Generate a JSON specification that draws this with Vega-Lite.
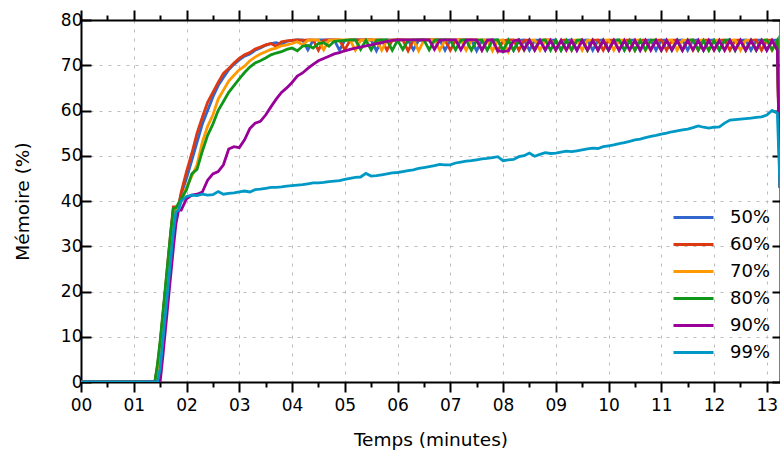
{
  "$schema": "https://vega.github.io/schema/vega-lite/v6.json",
  "width": 699,
  "height": 362,
  "autosize": {"type": "none"},
  "padding": {"left": 81, "top": 20, "right": 0, "bottom": 72},
  "background": "white",
  "config": {
    "view": {"stroke": null},
    "font": "DejaVu Sans",
    "axis": {
      "domainColor": "black", "domainWidth": 2,
      "tickColor": "black", "tickWidth": 2,
      "labelFont": "DejaVu Sans", "labelFontSize": 17, "labelColor": "black",
      "titleFont": "DejaVu Sans", "titleFontSize": 18.5, "titleFontWeight": "normal", "titleColor": "black",
      "gridColor": "#bcbcbc", "gridDash": [3, 6], "gridWidth": 1
    }
  },
  "data": {"values": [
    {"t":0,"50":0,"60":0,"70":0,"80":0,"90":0,"99":0},
    {"t":1.4,"50":0,"60":0,"70":0,"80":0,"90":0,"99":0},
    {"t":1.45,"50":3,"60":3.5,"70":2,"80":4,"90":0,"99":0},
    {"t":1.5,"50":8,"60":8.5,"70":7,"80":9,"90":0,"99":3},
    {"t":1.55,"50":14,"60":14.5,"70":13,"80":15,"90":5.5,"99":9},
    {"t":1.6,"50":20,"60":20.5,"70":19,"80":21,"90":11.5,"99":15},
    {"t":1.65,"50":26,"60":27,"70":25,"80":27,"90":17.5,"99":21},
    {"t":1.7,"50":32,"60":33,"70":31,"80":33,"90":23.5,"99":27},
    {"t":1.75,"50":38,"60":38.7,"70":37,"80":38.3,"90":29.5,"99":33},
    {"t":1.8,"50":38.5,"60":38.7,"70":38.5,"80":38.5,"90":35,"99":37.6},
    {"t":1.85,"50":39,"60":39,"70":39,"80":39.5,"90":38,"99":38},
    {"t":1.9,"50":41.5,"60":42,"70":40,"80":40.5,"90":38,"99":40},
    {"t":2.0,"50":45,"60":46.5,"70":43,"80":42.5,"90":40.5,"99":41},
    {"t":2.1,"50":49,"60":50.5,"70":45.5,"80":46,"90":41.3,"99":41.3},
    {"t":2.2,"50":53,"60":55,"70":48,"80":47,"90":41.5,"99":41.2},
    {"t":2.3,"50":57,"60":58.5,"70":53,"80":51,"90":42,"99":41.5},
    {"t":2.4,"50":60,"60":61.8,"70":56.5,"80":54.5,"90":44.6,"99":41.3},
    {"t":2.5,"50":63,"60":64,"70":59,"80":57,"90":46,"99":41.4},
    {"t":2.6,"50":65.5,"60":66.2,"70":62.5,"80":60,"90":46.5,"99":42.1},
    {"t":2.7,"50":67.3,"60":68.2,"70":64.5,"80":62,"90":48,"99":41.5},
    {"t":2.8,"50":69,"60":69.3,"70":66.5,"80":64,"90":51.5,"99":41.7},
    {"t":2.9,"50":70.2,"60":70.5,"70":67.8,"80":65.5,"90":52,"99":41.8},
    {"t":3.0,"50":71.2,"60":71.5,"70":69,"80":67,"90":51.8,"99":42},
    {"t":3.1,"50":72,"60":72.3,"70":69.8,"80":68.4,"90":53.5,"99":42.2},
    {"t":3.2,"50":72.5,"60":72.8,"70":71,"80":69.6,"90":56,"99":42},
    {"t":3.3,"50":73.3,"60":73.6,"70":71.8,"80":70.5,"90":57.2,"99":42.5},
    {"t":3.4,"50":73.8,"60":74,"70":72.5,"80":71,"90":57.6,"99":42.6},
    {"t":3.5,"50":74.4,"60":74.5,"70":73,"80":71.6,"90":59,"99":42.8},
    {"t":3.6,"50":74.8,"60":74.8,"70":73.5,"80":72.3,"90":60.8,"99":43},
    {"t":3.7,"50":75,"60":74.2,"70":73.8,"80":72.7,"90":62.5,"99":43},
    {"t":3.8,"50":74.6,"60":75.2,"70":74.3,"80":73,"90":64,"99":43.1},
    {"t":3.9,"50":75.3,"60":75.4,"70":74.5,"80":73.5,"90":65,"99":43.3},
    {"t":4.0,"50":75.5,"60":75.5,"70":74.8,"80":73.8,"90":66.2,"99":43.4},
    {"t":4.1,"50":75.6,"60":75.6,"70":75.2,"80":73.2,"90":67.6,"99":43.5},
    {"t":4.2,"50":75.6,"60":75.5,"70":74.5,"80":74.2,"90":68.3,"99":43.6},
    {"t":4.3,"50":73.4,"60":75.6,"70":75.5,"80":74.4,"90":69.3,"99":43.8},
    {"t":4.4,"50":75.5,"60":75.6,"70":75.6,"80":73.8,"90":70.2,"99":44},
    {"t":4.5,"50":75.6,"60":73.3,"70":75.6,"80":74.8,"90":71,"99":44},
    {"t":4.6,"50":75.6,"60":75.5,"70":73.4,"80":75,"90":71.5,"99":44.1},
    {"t":4.7,"50":75.6,"60":75.6,"70":75.5,"80":74.2,"90":72,"99":44.3},
    {"t":4.8,"50":75.6,"60":75.6,"70":75.6,"80":75.3,"90":72.5,"99":44.4},
    {"t":4.9,"50":73.3,"60":75.6,"70":75.6,"80":75.4,"90":72.8,"99":44.5},
    {"t":5.0,"50":75.5,"60":73.4,"70":75.6,"80":75.5,"90":73.2,"99":44.8},
    {"t":5.1,"50":75.6,"60":75.5,"70":75.6,"80":75.6,"90":73.5,"99":45},
    {"t":5.2,"50":75.6,"60":75.6,"70":73.3,"80":75.6,"90":73.8,"99":45.2},
    {"t":5.3,"50":75.6,"60":75.6,"70":75.5,"80":73.5,"90":74,"99":45.3},
    {"t":5.4,"50":75.6,"60":75.6,"70":75.6,"80":75.5,"90":74.3,"99":46.1},
    {"t":5.5,"50":75.6,"60":75.6,"70":75.6,"80":73.4,"90":74.5,"99":45.5},
    {"t":5.6,"50":73.2,"60":75.6,"70":75.6,"80":75.5,"90":74.8,"99":45.6},
    {"t":5.7,"50":75.5,"60":75.6,"70":73.3,"80":75.6,"90":75,"99":45.8},
    {"t":5.8,"50":75.6,"60":73.3,"70":75.5,"80":75.6,"90":75.3,"99":46},
    {"t":5.9,"50":75.6,"60":75.5,"70":75.6,"80":73.3,"90":75.5,"99":46.2},
    {"t":6.0,"50":75.6,"60":75.6,"70":75.6,"80":75.5,"90":75.6,"99":46.3},
    {"t":6.1,"50":75.6,"60":75.6,"70":75.6,"80":73.5,"90":75.6,"99":46.5},
    {"t":6.2,"50":75.6,"60":73.2,"70":75.6,"80":75.5,"90":75.6,"99":46.7},
    {"t":6.3,"50":73.4,"60":75.5,"70":75.6,"80":75.6,"90":75.6,"99":46.9},
    {"t":6.4,"50":75.5,"60":75.6,"70":73.2,"80":75.6,"90":75.6,"99":47.2},
    {"t":6.5,"50":75.6,"60":75.6,"70":75.5,"80":75.6,"90":75.6,"99":47.4},
    {"t":6.6,"50":75.6,"60":75.6,"70":75.6,"80":73.4,"90":75.6,"99":47.6},
    {"t":6.7,"50":75.6,"60":75.6,"70":75.6,"80":75.5,"90":73.5,"99":47.8},
    {"t":6.8,"50":75.6,"60":75.6,"70":73.3,"80":75.6,"90":75.5,"99":48.1},
    {"t":6.9,"50":73.3,"60":75.6,"70":75.5,"80":75.6,"90":75.6,"99":48},
    {"t":7.0,"50":75.5,"60":73.3,"70":75.6,"80":75.6,"90":75.6,"99":48},
    {"t":7.1,"50":75.6,"60":75.5,"70":75.6,"80":73.4,"90":75.6,"99":48.4},
    {"t":7.2,"50":75.6,"60":75.6,"70":75.6,"80":75.5,"90":73.4,"99":48.6},
    {"t":7.3,"50":75.6,"60":75.6,"70":73.3,"80":75.6,"90":75.5,"99":48.8},
    {"t":7.4,"50":75.6,"60":75.6,"70":75.5,"80":73.3,"90":75.6,"99":48.9},
    {"t":7.5,"50":73.2,"60":75.6,"70":75.6,"80":75.5,"90":75.6,"99":49.1},
    {"t":7.6,"50":75.5,"60":73.3,"70":75.6,"80":75.6,"90":73.3,"99":49.3},
    {"t":7.7,"50":75.6,"60":75.5,"70":75.6,"80":73.3,"90":75.5,"99":49.4},
    {"t":7.8,"50":75.6,"60":75.6,"70":73.2,"80":75.5,"90":75.6,"99":49.6},
    {"t":7.9,"50":75.6,"60":73.1,"70":75.5,"80":75.6,"90":73.2,"99":49.8},
    {"t":8.0,"50":73.2,"60":75.4,"70":75.6,"80":73.2,"90":73,"99":48.9},
    {"t":8.1,"50":75.5,"60":75.6,"70":73,"80":75.5,"90":73.2,"99":49.1},
    {"t":8.2,"50":73.3,"60":75.6,"70":75.5,"80":73.3,"90":75.4,"99":49.2},
    {"t":8.3,"50":75.5,"60":73.3,"70":75.6,"80":75.5,"90":75.6,"99":49.8},
    {"t":8.4,"50":75.6,"60":75.5,"70":73.3,"80":73.4,"90":73.5,"99":50},
    {"t":8.5,"50":73.3,"60":75.6,"70":75.5,"80":75.5,"90":75.5,"99":50.6},
    {"t":8.6,"50":75.5,"60":73.3,"70":75.6,"80":73.4,"90":73.4,"99":49.9},
    {"t":8.7,"50":75.6,"60":75.5,"70":73.3,"80":75.5,"90":75.5,"99":50.3},
    {"t":8.8,"50":73.3,"60":75.6,"70":75.5,"80":75.6,"90":73.4,"99":50.7},
    {"t":8.9,"50":75.5,"60":75.6,"70":75.6,"80":73.3,"90":75.5,"99":50.5},
    {"t":9.0,"50":75.6,"60":73.3,"70":73.4,"80":75.5,"90":73.4,"99":50.6},
    {"t":9.1,"50":73.3,"60":75.5,"70":75.5,"80":73.3,"90":75.5,"99":50.8},
    {"t":9.2,"50":75.5,"60":75.6,"70":73.3,"80":75.5,"90":73.4,"99":51},
    {"t":9.3,"50":75.6,"60":73.3,"70":75.5,"80":73.4,"90":75.5,"99":50.9},
    {"t":9.4,"50":73.3,"60":75.5,"70":75.6,"80":75.5,"90":73.3,"99":51.1},
    {"t":9.5,"50":75.5,"60":75.6,"70":73.3,"80":75.6,"90":75.5,"99":51.3},
    {"t":9.6,"50":75.6,"60":73.3,"70":75.5,"80":73.3,"90":73.4,"99":51.5},
    {"t":9.7,"50":73.3,"60":75.5,"70":75.6,"80":75.5,"90":75.5,"99":51.7},
    {"t":9.8,"50":75.5,"60":75.6,"70":73.3,"80":73.4,"90":73.3,"99":51.6},
    {"t":9.9,"50":75.6,"60":73.3,"70":75.5,"80":75.5,"90":75.5,"99":52},
    {"t":10.0,"50":73.3,"60":75.5,"70":75.6,"80":73.3,"90":73.4,"99":52.2},
    {"t":10.1,"50":75.5,"60":75.6,"70":73.3,"80":75.5,"90":75.5,"99":52.4},
    {"t":10.2,"50":75.6,"60":73.3,"70":75.5,"80":75.6,"90":73.3,"99":52.7},
    {"t":10.3,"50":73.3,"60":75.5,"70":75.6,"80":73.4,"90":75.5,"99":52.9},
    {"t":10.4,"50":75.5,"60":75.6,"70":73.3,"80":75.5,"90":73.4,"99":53.2},
    {"t":10.5,"50":75.6,"60":73.3,"70":75.5,"80":73.3,"90":75.5,"99":53.5},
    {"t":10.6,"50":73.3,"60":75.5,"70":75.6,"80":75.5,"90":73.3,"99":53.7},
    {"t":10.7,"50":75.5,"60":75.6,"70":73.3,"80":73.4,"90":75.5,"99":54},
    {"t":10.8,"50":75.6,"60":73.3,"70":75.5,"80":75.5,"90":73.4,"99":54.3},
    {"t":10.9,"50":73.3,"60":75.5,"70":75.6,"80":75.6,"90":75.5,"99":54.5},
    {"t":11.0,"50":75.5,"60":75.6,"70":73.3,"80":73.3,"90":73.3,"99":54.8},
    {"t":11.1,"50":75.6,"60":73.3,"70":75.5,"80":75.5,"90":75.5,"99":55},
    {"t":11.2,"50":73.3,"60":75.5,"70":75.6,"80":73.4,"90":73.4,"99":55.3},
    {"t":11.3,"50":75.5,"60":75.6,"70":73.3,"80":75.5,"90":75.5,"99":55.5},
    {"t":11.4,"50":75.6,"60":73.3,"70":75.5,"80":73.3,"90":73.3,"99":55.7},
    {"t":11.5,"50":73.3,"60":75.5,"70":75.6,"80":75.5,"90":75.5,"99":55.9},
    {"t":11.6,"50":75.5,"60":75.6,"70":73.3,"80":75.6,"90":73.4,"99":56.2},
    {"t":11.7,"50":75.6,"60":73.3,"70":75.5,"80":73.4,"90":75.5,"99":56.6},
    {"t":11.8,"50":73.3,"60":75.5,"70":75.6,"80":75.5,"90":73.3,"99":56.3},
    {"t":11.9,"50":75.5,"60":75.6,"70":73.3,"80":73.3,"90":75.5,"99":56.1},
    {"t":12.0,"50":75.6,"60":73.3,"70":75.5,"80":75.5,"90":73.4,"99":56.3},
    {"t":12.1,"50":73.3,"60":75.5,"70":75.6,"80":73.4,"90":75.5,"99":56.4},
    {"t":12.2,"50":75.5,"60":75.6,"70":73.3,"80":75.5,"90":73.3,"99":57.2},
    {"t":12.3,"50":75.6,"60":73.3,"70":75.5,"80":75.6,"90":75.5,"99":57.9},
    {"t":12.4,"50":73.3,"60":75.5,"70":75.6,"80":73.3,"90":73.4,"99":58},
    {"t":12.5,"50":75.5,"60":75.6,"70":73.3,"80":75.5,"90":75.5,"99":58.1},
    {"t":12.6,"50":75.6,"60":73.3,"70":75.5,"80":73.4,"90":73.3,"99":58.2},
    {"t":12.7,"50":73.3,"60":75.5,"70":75.6,"80":75.5,"90":75.5,"99":58.3},
    {"t":12.8,"50":75.5,"60":75.6,"70":73.3,"80":73.3,"90":73.4,"99":58.5},
    {"t":12.9,"50":75.6,"60":73.3,"70":75.5,"80":75.5,"90":75.5,"99":58.6},
    {"t":13.0,"50":73.3,"60":75.5,"70":75.6,"80":75.6,"90":73.3,"99":59},
    {"t":13.1,"50":75.5,"60":75.6,"70":73.3,"80":73.4,"90":75.5,"99":60},
    {"t":13.2,"50":75.6,"60":73.3,"70":75.5,"80":75.5,"90":73.4,"99":59.4},
    {"t":13.25,"50":43,"60":43,"70":43,"80":43,"90":43,"99":43}
  ]},
  "transform": [{"fold": ["50", "60", "70", "80", "90", "99"], "as": ["k", "v"]}],
  "layer": [
    {
      "mark": {"type": "line", "strokeWidth": 2.8, "clip": true},
      "encoding": {
        "x": {
          "field": "t", "type": "quantitative",
          "scale": {"domain": [0, 13.25], "nice": false, "zero": false},
          "axis": {
            "orient": "bottom",
            "title": "Temps (minutes)",
            "values": [0,0.5,1,1.5,2,2.5,3,3.5,4,4.5,5,5.5,6,6.5,7,7.5,8,8.5,9,9.5,10,10.5,11,11.5,12,12.5,13],
            "labelExpr": "datum.value % 1 === 0 ? format(datum.value, '02d') : ''",
            "tickSize": {"condition": {"test": "datum.value % 1 !== 0", "value": 5}, "value": 10},
            "gridOpacity": {"condition": {"test": "datum.value % 1 !== 0", "value": 0}, "value": 1},
            "grid": true,
            "labelPadding": 5,
            "titlePadding": 17,
            "labelFlush": false,
            "labelOverlap": false
          }
        },
        "y": {
          "field": "v", "type": "quantitative",
          "scale": {"domain": [0, 80], "nice": false},
          "axis": {
            "orient": "left",
            "title": "Mémoire (%)",
            "values": [0,10,20,30,40,50,60,70,80],
            "tickSize": -10,
            "labelPadding": 9,
            "titlePadding": 28,
            "grid": true
          }
        },
        "color": {
          "field": "k", "type": "nominal",
          "scale": {"domain": ["50","60","70","80","90","99"], "range": ["#3366cc","#dc3912","#ff9900","#109618","#990099","#0099c6"]},
          "legend": {
            "title": null,
            "orient": "none",
            "legendX": 591,
            "legendY": 184,
            "symbolType": "stroke",
            "symbolSize": 1600,
            "symbolStrokeWidth": 3,
            "clipHeight": 27,
            "rowPadding": 0,
            "labelOffset": 15,
            "labelFont": "DejaVu Sans",
            "labelFontSize": 18,
            "labelColor": "black",
            "labelExpr": "datum.label + '%'",
            "padding": 0
          }
        }
      }
    },
    {
      "mark": {"type": "point", "opacity": 0, "size": 0},
      "encoding": {
        "x": {
          "field": "t", "type": "quantitative",
          "axis": {
            "orient": "top", "title": null, "labels": false, "grid": false,
            "values": [0,0.5,1,1.5,2,2.5,3,3.5,4,4.5,5,5.5,6,6.5,7,7.5,8,8.5,9,9.5,10,10.5,11,11.5,12,12.5,13],
            "tickSize": {"condition": {"test": "datum.value % 1 !== 0", "value": 5}, "value": 10}
          }
        },
        "y": {
          "field": "v", "type": "quantitative",
          "axis": {
            "orient": "right", "title": null, "labels": false, "grid": false,
            "values": [0,10,20,30,40,50,60,70,80],
            "tickSize": -8
          }
        }
      }
    }
  ],
  "resolve": {"axis": {"x": "independent", "y": "independent"}}
}
